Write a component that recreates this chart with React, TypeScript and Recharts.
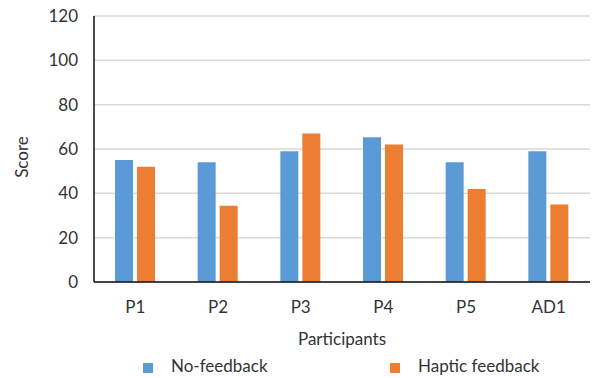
import { BarChart, Bar, XAxis, YAxis, CartesianGrid, Legend, Label } from 'recharts';

const participants = ['P1', 'P2', 'P3', 'P4', 'P5', 'AD1'];
const noFeedback = [55, 54, 59, 65.3, 54, 59];
const hapticFeedback = [52, 34.4, 67, 62, 42, 35];
const scoreTicks = [0, 20, 40, 60, 80, 100, 120];

const COLORS = {
  noFeedback: '#5b9bd5',
  haptic: '#ed7d31',
};

const FONT = 'Lato, "Open Sans", sans-serif';
const TEXT = '#333333';

const data = participants.map((p, i) => ({
  name: p,
  noFeedback: noFeedback[i],
  haptic: hapticFeedback[i],
}));

const ScoreLabel = () => (
  <text
    x={21}
    y={157}
    transform="rotate(-90, 21, 157)"
    textAnchor="middle"
    dominantBaseline="central"
    fill={TEXT}
    fontSize={17}
    fontFamily={FONT}
  >
    Score
  </text>
);

const renderLegend = () => (
  <div style={{ position: 'relative', width: 592, height: 24, fontFamily: FONT, fontSize: 17, color: TEXT }}>
    <div style={{ position: 'absolute', left: 143, top: 9, width: 10, height: 10, background: COLORS.noFeedback }} />
    <div style={{ position: 'absolute', left: 171, top: 2, lineHeight: '20px' }}>No-feedback</div>
    <div style={{ position: 'absolute', left: 390, top: 9, width: 10, height: 10, background: COLORS.haptic }} />
    <div style={{ position: 'absolute', left: 418, top: 2, lineHeight: '20px' }}>Haptic feedback</div>
  </div>
);

const App = () => {
  return (
    <div style={{ position: 'absolute', left: 0, top: 0, background: '#fff' }}>
      <BarChart
        width={592}
        height={378}
        data={data}
        margin={{ top: 16, right: 2, bottom: 0, left: 0 }}
        barSize={18}
        barGap={4}
      >
        <CartesianGrid vertical={false} stroke="#d9d9d9" strokeWidth={1.5} />
        <XAxis
          dataKey="name"
          height={72}
          tickLine={false}
          tickMargin={13}
          stroke="#111"
          strokeWidth={1.5}
          tick={{ fill: TEXT, fontSize: 17, fontFamily: FONT }}
        >
          <Label
            value="Participants"
            position="insideBottom"
            offset={9}
            fill={TEXT}
            fontSize={17}
            fontFamily={FONT}
          />
        </XAxis>
        <YAxis
          width={94}
          domain={[0, 120]}
          ticks={scoreTicks}
          tickLine={false}
          tickMargin={10}
          stroke="#111"
          strokeWidth={1.5}
          tick={{ fill: TEXT, fontSize: 17, fontFamily: FONT }}
        >
          <Label content={<ScoreLabel />} />
        </YAxis>
        <Legend verticalAlign="bottom" height={24} content={renderLegend} />
        <Bar dataKey="noFeedback" name="No-feedback" fill={COLORS.noFeedback} isAnimationActive={false} />
        <Bar dataKey="haptic" name="Haptic feedback" fill={COLORS.haptic} isAnimationActive={false} />
      </BarChart>
    </div>
  );
};

export default App;
